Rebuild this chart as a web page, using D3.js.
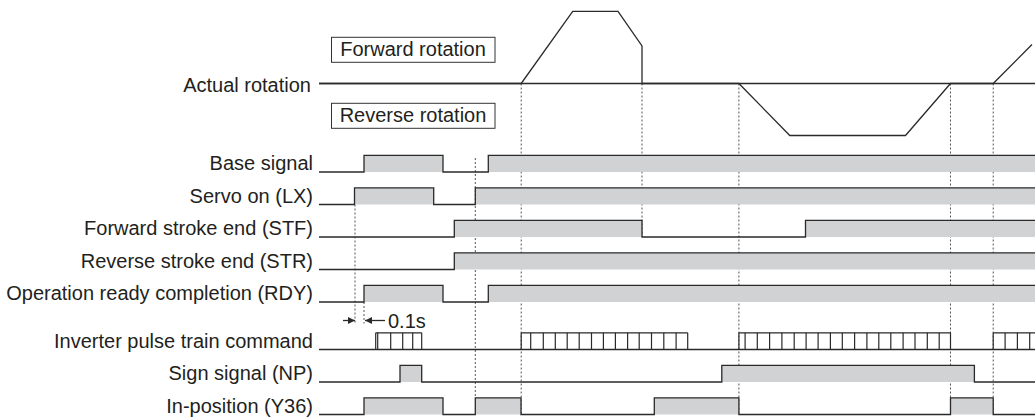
<!DOCTYPE html>
<html><head><meta charset="utf-8">
<script src="https://cdn.jsdelivr.net/npm/d3@7"></script>
<style>
body{margin:0;background:#fff}
svg{display:block}
text{font-family:"Liberation Sans",Arial,Helvetica,sans-serif;fill:#231f20}
</style>
</head><body><svg id="c" width="1035" height="419"></svg>
<script>
// ---------- data (time units along the chart) ----------
const signalLabels = ["Base signal","Servo on (LX)","Forward stroke end (STF)","Reverse stroke end (STR)",
  "Operation ready completion (RDY)","Inverter pulse train command","Sign signal (NP)","In-position (Y36)"];
// toggle times (start low)
const baseSignal = [45, 124, 169.3];
const servoOn    = [35.5, 114.7, 156.3];
const stf        = [135.3, 323, 486.5];
const str        = [135.3];
const rdy        = [45, 124, 169.3];
const signNP     = [81, 102.7, 402.8, 655.4];
const inPosition = [45, 124, 156.3, 202, 335.3, 419.9, 631.5, 674.2];
// pulse train edges
const pulseTrain1 = [56.7, 58.7, 71.7, 83.7, 93.7, 102.7];
const pulseTrain2 = [202.2, 211.7, 224.3, 236.3, 248.2, 260.2, 272.5, 284.4, 296.4, 308.6, 320.2, 332.5, 344.8, 357.1, 368.7];
const pulseTrain3 = [419.9, 426.1, 438.3, 450.6, 462.9, 475.2, 487.1, 499.1, 511.4, 523.3, 535.6, 547.9, 559.8, 571.8, 584.1, 596, 608.3, 620.2, 631.5];
const pulseTrain4 = [674.2, 686.1, 698.4, 710.7, 716];
// actual rotation profile [time, speed]
const rotTimes  = [0, 202.2, 253.7, 299, 323, 323, 419.9, 470.8, 586.5, 631.5, 674.2, 713];
const rotSpeeds = [0, 0, 1, 1, 0.52, 0, 0, -0.72, -0.72, 0, 0, 0.54];
const rotationLabels = ["Actual rotation","Forward rotation","Reverse rotation"];
const markerTimes = [36, 45, 156.3, 202.2, 323, 419.9, 631.5, 674.2];
const intervalLabel = "0.1s";
const tEnd = 716;

// ---------- layout ----------
const svg = d3.select("#c");
const x = d3.scaleLinear().domain([0, tEnd]).range([319, 1035]);
const yRot = d3.scaleLinear().domain([0, 1]).range([83.5, 11.3]);
const rowLow = i => 172 + i*32.5 + (i >= 5 ? 15 : 0);
const amp = 16.7;
const ink = "#2a2a2a", fillG = "#d1d2d4", fs = "20px";
const labelX = 313;

// dashed markers (drawn first)
const arrowY = 320.5;
const markerSpans = [
  [rowLow(1), arrowY+3], [rowLow(4), arrowY+3], [158, rowLow(7)-amp],
  [yRot(0), rowLow(7)], [yRot(0), rowLow(2)], [yRot(0), rowLow(7)],
  [yRot(0), rowLow(7)], [yRot(0), rowLow(7)]
];
svg.append("g").selectAll("line").data(markerTimes).join("line")
  .attr("x1", d => x(d)).attr("x2", d => x(d))
  .attr("y1", (d,i) => markerSpans[i][0]).attr("y2", (d,i) => markerSpans[i][1])
  .attr("stroke", "#555").attr("stroke-width", 1).attr("stroke-dasharray", "2,2");

// rotation
svg.append("line").attr("x1", x(0)).attr("x2", x(tEnd)).attr("y1", yRot(0)).attr("y2", yRot(0))
  .attr("stroke", ink).attr("stroke-width", 1.3);
const rotLine = d3.line().x(d => x(d[0])).y(d => yRot(d[1]));
svg.append("path").attr("d", rotLine(rotTimes.map((t,i) => [t, rotSpeeds[i]])))
  .attr("fill", "none").attr("stroke", ink).attr("stroke-width", 1.3);
svg.append("text").attr("x", 311).attr("y", 91.5).attr("text-anchor", "end")
  .style("font-size", fs).text(rotationLabels[0]);
[[rotationLabels[1], 37.3], [rotationLabels[2], 103.3]].forEach(([t, yb]) => {
  svg.append("rect").attr("x", 331.5).attr("y", yb).attr("width", 163.5).attr("height", 25)
    .attr("fill", "#fff").attr("stroke", "#333").attr("stroke-width", 1);
  svg.append("text").attr("x", 413).attr("y", yb + 19).attr("text-anchor", "middle")
    .style("font-size", fs).text(t);
});

// signal rows
function drawLevel(i, trans) {
  const low = rowLow(i), high = low - amp;
  const g = svg.append("g");
  const times = [0, ...trans, tEnd];
  const highs = [];
  for (let k = 1; k < times.length - 1; k += 2) highs.push([times[k], times[k+1]]);
  g.selectAll("rect").data(highs).join("rect")
    .attr("x", d => x(d[0])).attr("width", d => x(d[1]) - x(d[0]))
    .attr("y", high).attr("height", amp).attr("fill", fillG);
  const pts = [[0, low]];
  let lvl = low;
  trans.forEach(t => { pts.push([t, lvl]); lvl = (lvl === low ? high : low); pts.push([t, lvl]); });
  pts.push([tEnd, lvl]);
  g.append("path").attr("d", d3.line().x(d => x(d[0])).y(d => d[1])(pts))
    .attr("fill", "none").attr("stroke", ink).attr("stroke-width", 1.3);
}
const levelSignals = [baseSignal, servoOn, stf, str, rdy, null, signNP, inPosition];
levelSignals.forEach((s, i) => { if (s) drawLevel(i, s); });

// pulse train row
(function() {
  const low = rowLow(5), high = low - amp;
  const g = svg.append("g");
  g.append("line").attr("x1", x(0)).attr("x2", x(tEnd)).attr("y1", low).attr("y2", low)
    .attr("stroke", ink).attr("stroke-width", 1.3);
  [pulseTrain1, pulseTrain2, pulseTrain3, pulseTrain4].forEach((edges, j) => {
    const last = j === 3 ? edges.length - 1 : edges.length;
    g.append("line").attr("x1", x(edges[0])).attr("x2", x(edges[edges.length-1]))
      .attr("y1", high).attr("y2", high).attr("stroke", ink).attr("stroke-width", 1.3);
    g.selectAll(null).data(edges.slice(0, last)).join("line")
      .attr("x1", d => x(d)).attr("x2", d => x(d)).attr("y1", high).attr("y2", low)
      .attr("stroke", ink).attr("stroke-width", 1.2);
  });
})();

// labels
svg.append("g").selectAll("text").data(signalLabels).join("text")
  .attr("x", labelX).attr("y", (d,i) => rowLow(i) - 2).attr("text-anchor", "end")
  .style("font-size", fs).text(d => d);

// 0.1s interval arrows
const defs = svg.append("defs");
defs.append("marker").attr("id", "ah").attr("viewBox", "0 0 10 10").attr("refX", 10).attr("refY", 5)
  .attr("markerWidth", 9).attr("markerHeight", 7).attr("markerUnits", "userSpaceOnUse").attr("orient", "auto")
  .append("path").attr("d", "M0,0L10,5L0,10Z").attr("fill", ink);
svg.append("line").attr("x1", x(24)).attr("x2", x(markerTimes[0])).attr("y1", arrowY).attr("y2", arrowY)
  .attr("stroke", ink).attr("stroke-width", 1.3).attr("marker-end", "url(#ah)");
svg.append("line").attr("x1", x(66)).attr("x2", x(markerTimes[1]) + 1).attr("y1", arrowY).attr("y2", arrowY)
  .attr("stroke", ink).attr("stroke-width", 1.3).attr("marker-end", "url(#ah)");
svg.append("text").attr("x", x(69)).attr("y", 327.5).style("font-size", fs).text(intervalLabel);
</script>
</body></html>
